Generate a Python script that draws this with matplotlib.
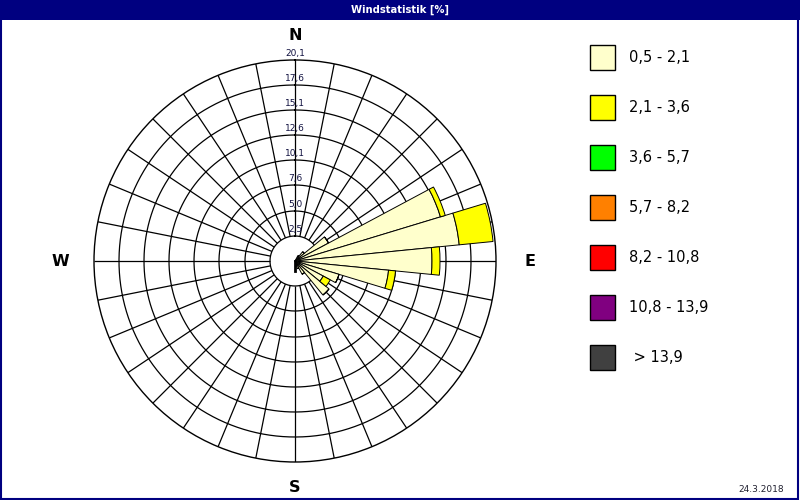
import numpy as np
import matplotlib.pyplot as plt
from matplotlib.patches import Rectangle

# Windrichtungen (Grad, 32 Sektoren) und Anteile je Geschwindigkeitsklasse [%]
directions = [33.75, 45, 56.25, 67.5, 78.75, 90, 101.25, 112.5, 123.75, 135, 146.25, 157.5]
class_05_21 = [0.6, 1.2, 3.8, 15.2, 16.5, 13.7, 9.4, 4.6, 3.2, 4.4, 1.5, 0.8]
class_21_36 = [0.0, 0.0, 0.0, 0.5, 3.4, 0.8, 0.7, 0.0, 0.8, 0.0, 0.0, 0.0]

ring_values = [2.5, 5.0, 7.6, 10.1, 12.6, 15.1, 17.6, 20.1]
ring_labels = ["2,5", "5,0", "7,6", "10,1", "12,6", "15,1", "17,6", "20,1"]

class_labels = ["0,5 - 2,1", "2,1 - 3,6", "3,6 - 5,7", "5,7 - 8,2",
                "8,2 - 10,8", "10,8 - 13,9", " > 13,9"]
class_colors = ["#FFFFCC", "#FFFF00", "#00FF00", "#FF8000",
                "#FF0000", "#800080", "#404040"]

compass = ["N", "E", "S", "W"]
compass_deg = [0, 90, 180, 270]

navy = "#000080"
n_sectors = 32
rmax = ring_values[-1]
calm = ring_values[0]

fig = plt.figure(figsize=(8, 5), dpi=100)
fig.patch.set_facecolor("white")

# Titelleiste und Rahmen
fig.patches.append(Rectangle((0, 0.96), 1, 0.04, transform=fig.transFigure,
                             facecolor=navy, edgecolor="none", zorder=0))
fig.patches.append(Rectangle((0.001, 0.002), 0.997, 0.996, transform=fig.transFigure,
                             facecolor="none", edgecolor=navy, linewidth=1.5, zorder=5))
fig.text(0.5, 0.981, "Windstatistik [%]", color="white", fontsize=7.2,
         fontweight="semibold", ha="center", va="center")
fig.text(0.98, 0.022, "24.3.2018", fontsize=6.5, ha="right", va="center", color="#202030")

# Polardiagramm: Mittelpunkt (295, 261) px, Radius 201 px
ax = fig.add_axes([94 / 800, 38 / 500, 402 / 800, 402 / 500], projection="polar")
ax.set_theta_zero_location("N")
ax.set_theta_direction(-1)
ax.set_ylim(0, rmax)
ax.grid(False)
ax.set_xticks([])
ax.set_yticks([])
ax.spines["polar"].set_linewidth(1.0)
ax.spines["polar"].set_color("black")

th = np.linspace(0, 2 * np.pi, 500)
for r in ring_values[:-1]:
    ax.plot(th, np.full_like(th, r), color="black", lw=0.9, zorder=1)
spokes = np.deg2rad(np.arange(n_sectors) * 360 / n_sectors)
ax.vlines(spokes, calm, rmax, colors="black", lw=0.9, zorder=1)

# Sektoren
theta = np.deg2rad(directions)
width = 2 * np.pi / n_sectors
c1 = np.array(class_05_21)
c2 = np.array(class_21_36)
ax.bar(theta, c1, width=width, bottom=0, color=class_colors[0],
       edgecolor="black", linewidth=0.7, zorder=3)
ax.bar(theta, c2, width=width, bottom=c1, color=class_colors[1],
       edgecolor="black", linewidth=0.7, zorder=3)
ax.plot([np.pi, np.pi], [0, 1.0], color="black", lw=2, zorder=4)

# Ringbeschriftung
for r, lab in zip(ring_values, ring_labels):
    ax.annotate(lab, xy=(0, r), xytext=(0, 1.5), textcoords="offset points",
                ha="center", va="bottom", fontsize=6.5, color="#101040", zorder=5)

for lab, d in zip(compass, compass_deg):
    rr = 22.6 if lab in ("N", "S") else 23.5
    ax.text(np.deg2rad(d), rr, lab, ha="center", va="center",
            fontsize=11.5, fontweight="bold", color="black")

# Legende (Pixelkoordinaten)
lax = fig.add_axes([0, 0, 1, 1], facecolor="none")
lax.set_xlim(0, 800)
lax.set_ylim(500, 0)
lax.axis("off")
for i, (c, lab) in enumerate(zip(class_colors, class_labels)):
    y0 = 45 + 50 * i
    lax.add_patch(Rectangle((590, y0), 25, 25, facecolor=c, edgecolor="black", linewidth=1.0))
    lax.text(629, y0 + 13, lab, fontsize=10.5, ha="left", va="center", color="black")

plt.savefig("out.png", dpi=100)
